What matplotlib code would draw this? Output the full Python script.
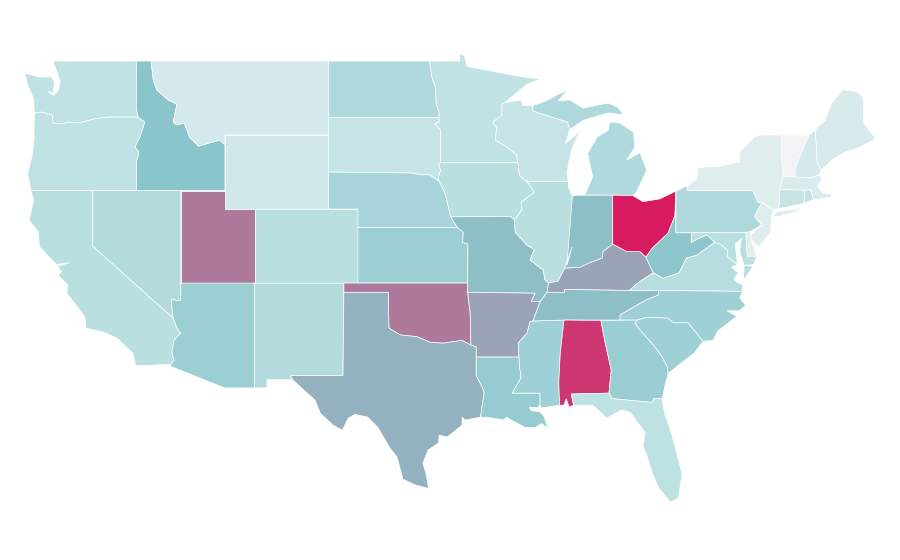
import matplotlib
import matplotlib.pyplot as plt
from matplotlib.colors import LinearSegmentedColormap
matplotlib.use('agg')

# shared borders, lon/lat
COLUMBIA = [(-123.95, 46.2), (-123.44, 46.24), (-122.76, 46.08), (-122.7, 45.65), (-122.02, 45.6),
            (-121.68, 45.7), (-120.87, 45.65), (-119.99, 45.86), (-118.97, 45.97), (-116.92, 45.97)]
SNAKE = [(-116.92, 45.97), (-116.47, 45.7), (-116.8, 44.9), (-117.14, 44.35), (-116.87, 44.1),
         (-116.94, 43.8), (-117.03, 43.6), (-117.03, 42)]
ID_MT = [(-116.05, 49), (-115.9, 47.97), (-115.65, 47.43), (-114.9, 46.9), (-114.3, 46.67),
         (-114.55, 45.7), (-114.3, 45.55), (-113.8, 45.65), (-113.45, 44.9), (-112.85, 44.4),
         (-111.4, 44.73), (-111.05, 44.47)]
NV_CA = [(-120, 42), (-120, 39), (-114.55, 35.1)]
COLORADO_NV = [(-114.04, 36.2), (-114.05, 36.08), (-114.3, 36.05), (-114.65, 36.13), (-114.65, 35.7), (-114.55, 35.1)]
COLORADO_CA = [(-114.55, 35.1), (-114.3, 34.57), (-114.05, 34.3), (-114.5, 33.9), (-114.65, 33.27),
               (-114.5, 32.84), (-114.72, 32.6)]
RED_ND = [(-97.2, 49), (-97.03, 48.1), (-96.8, 47.6), (-96.75, 46.7), (-96.55, 46.2), (-96.55, 45.95)]
SD_MN = [(-96.55, 45.95), (-96.55, 45.7), (-96.85, 45.6), (-96.45, 45.3), (-96.45, 43.5)]
SD_IA = [(-96.45, 43.5), (-96.6, 43.45), (-96.45, 43.1), (-96.6, 42.7), (-96.55, 42.5)]
SD_NE = [(-98.4, 42.95), (-97.85, 42.85), (-97.2, 42.85), (-96.55, 42.5)]
NE_IA = [(-96.55, 42.5), (-96.15, 41.86), (-95.85, 40.9), (-95.77, 40.58)]
NE_MO = [(-95.77, 40.58), (-95.31, 40)]
KS_MO = [(-95.31, 40), (-94.92, 39.75), (-94.95, 39.2), (-94.6, 39.1)]
MISS_MN = [(-92.3, 46.65), (-92.3, 46.1), (-92.9, 45.7), (-92.65, 45.38), (-92.75, 44.73), (-91.95, 44.35),
           (-91.3, 43.92), (-91.22, 43.5)]
MISS_WI = [(-91.22, 43.5), (-91.1, 42.8), (-90.64, 42.5)]
MISS_IA = [(-90.64, 42.5), (-90.53, 42.4), (-90.1, 41.9), (-91, 41.37), (-90.95, 40.95), (-91.45, 40.4)]
MISS_MO = [(-91.45, 40.4), (-91.4, 39.75), (-90.6, 39.05), (-90.1, 38.8), (-90.4, 38.25), (-89.5, 37.7),
           (-89.4, 37.2), (-89.15, 37)]
MISS_KY = [(-89.15, 37), (-89.2, 36.7), (-89.25, 36.5)]
MISS_TN = [(-89.25, 36.5), (-89.7, 36)]
MISS_AR_TN = [(-89.7, 36), (-89.85, 35.7), (-90.2, 34.95)]
MISS_AR = [(-90.2, 34.95), (-90.4, 34.9), (-90.6, 34.3), (-91.2, 33.75), (-91.15, 33)]
MISS_LA = [(-91.15, 33), (-91.1, 32.45), (-91.0, 31.9), (-91.6, 31.05)]
OHIO_IL = [(-89.15, 37), (-88.5, 37.1), (-88.05, 37.8)]
OHIO_IN = [(-88.05, 37.8), (-87, 37.85), (-86.35, 38.1), (-85.5, 38.35), (-85.45, 38.7), (-84.8, 39.1)]
OHIO_OH = [(-84.8, 39.1), (-84.65, 39.05), (-83.85, 38.7), (-82.95, 38.7), (-82.55, 38.4)]
OHIO_WV = [(-82.55, 38.4), (-82.1, 38.9), (-81.7, 39.2), (-81.05, 39.7), (-80.6, 40.6)]
WABASH = [(-88.05, 37.8), (-87.9, 37.95), (-87.55, 38.95), (-87.53, 41.7)]
KY_WV = [(-82.55, 38.4), (-82.05, 37.55)]
KY_VA = [(-82.05, 37.55), (-83.1, 37), (-83.68, 36.6)]
WV_VA = [(-82.05, 37.55), (-81.4, 37.25), (-80.3, 37.55), (-79.8, 38.35), (-79.1, 38.5), (-77.9, 39.2)]
WV_MD = [(-77.9, 39.2), (-78.4, 39.6), (-78.9, 39.45), (-79.48, 39.2), (-79.48, 39.72)]
RED_OK = [(-99.95, 34.57), (-99.2, 34.2), (-98.05, 34.1), (-97.17, 33.8), (-96.3, 33.75), (-95, 33.9),
          (-94.4, 33.65)]
SABINE = [(-94.04, 32), (-93.65, 31.4), (-93.5, 31.1), (-93.75, 29.75)]
TN_NC = [(-81.68, 36.6), (-81.7, 36.35), (-82.5, 36.1), (-83.4, 35.7), (-84.3, 35.27), (-84.3, 35)]
SAVANNAH = [(-83.1, 35), (-83.3, 34.83), (-82.95, 34.45), (-82.05, 33.65), (-81.45, 33), (-81.1, 32.45),
            (-81.05, 32.1)]
GA_AL = [(-85.6, 34.98), (-85.3, 33.75), (-84.9, 32.3), (-85.05, 31.05)]
GA_FL = [(-85.05, 31.05), (-84.85, 30.75), (-82.15, 30.55), (-82, 30.75), (-81.45, 30.75)]
NC_SC = [(-83.1, 35), (-82.5, 35.15), (-81.05, 35.1), (-80.7, 34.85), (-79.7, 34.85), (-78.68, 33.85)]
MI_WI = [(-90.2, 46.6), (-90.2, 46.3), (-87.85, 45.7), (-87.7, 45.3)]
NY_VT = [(-73.4, 45), (-73.35, 43.65), (-73.25, 42.75)]
NY_PA = [(-79.76, 42), (-75.3, 42), (-74.95, 41.35), (-74.7, 41.35)]
PA_NJ = [(-74.7, 41.35), (-75.2, 40.6), (-74.7, 40.15), (-75.45, 39.8)]
VT_NH = [(-71.5, 45), (-72.05, 44), (-72.45, 43.2), (-72.45, 42.73)]

STATE_NAMES = ["WA", "OR", "CA", "NV", "ID", "MT", "WY", "UT", "AZ", "NM", "CO", "ND", "SD", "NE", "KS", "OK", "TX",
               "MN", "IA", "MO", "AR", "LA", "WI", "IL", "MS", "MI", "IN", "KY", "TN", "AL", "OH", "WV", "VA", "NC",
               "SC", "GA", "FL", "PA", "NY", "VT", "NH", "ME", "MA", "CT", "RI", "NJ", "DE", "MD"]
STATE_VALUES = [25, 25, 28, 31, 50, 16, 17, 72, 42, 31, 28, 33, 22, 37, 42, 72, 56,
                25, 28, 52, 60, 45, 22, 28, 41, 33, 52, 60, 52, 92, 100, 49, 29, 41,
                41, 43, 26, 33, 10, 1, 16, 14, 13, 22, 24, 10, 8, 28]
RAMP_STOPS = [0, 0.25, 0.5, 1]
RAMP_COLORS = ["#f4f4f6", "#c0e2e4", "#8bc6cc", "#d81b60"]

OUTLINES = {
    "WA": [[(-117.04, 49), (-122.7, 49), (-122.5, 48.6), (-122.2, 47.9), (-122.35, 47.4), (-122.65, 47.15),
            (-123.05, 47.35), (-122.65, 47.3), (-122.6, 47.9), (-122.8, 48.15), (-123.6, 48.13), (-124.6, 48.35),
            (-124.4, 47.7), (-124, 46.95), (-123.95, 46.2), *COLUMBIA[1:]]],
    "OR": [[*COLUMBIA, *SNAKE[1:], (-120, 42), (-124.2, 42), (-124.4, 42.95), (-124.1, 43.9), (-123.98, 44.7)]],
    "CA": [[(-124.2, 42), *NV_CA, *COLORADO_CA[1:], (-117.1, 32.53), (-117.28, 33.2), (-118.36, 34.03),
            (-119.3, 34.35), (-120.46, 34.57), (-120.53, 35.16), (-121.75, 36.46), (-121.7, 36.9), (-122.35, 37.43),
            (-122.1, 37.6), (-122.4, 37.9), (-121.6, 38.1), (-122.45, 38), (-123.6, 38.95), (-123.7, 39.76),
            (-124.3, 40.4), (-124, 41.5)]],
    "NV": [[*NV_CA, *COLORADO_NV[::-1], (-114.04, 42)]],
    "ID": [[(-117.03, 49), (-116.05, 49), *ID_MT[1:], (-111.05, 42), (-117.03, 42), *SNAKE[::-1], (-117.04, 46.4)]],
    "MT": [[*ID_MT, (-111.05, 45), (-104.05, 45), (-104.05, 49)]],
    "WY": [[(-111.05, 45), (-104.05, 45), (-104.05, 41), (-111.05, 41)]],
    "UT": [[(-114.04, 42), (-111.05, 42), (-111.05, 41), (-109.05, 41), (-109.05, 37), (-114.04, 37)]],
    "AZ": [[(-114.04, 37), (-109.05, 37), (-109.05, 31.33), (-111.07, 31.33), (-114.72, 32.5), *COLORADO_CA[::-1],
            *COLORADO_NV[::-1][1:]]],
    "NM": [[(-109.05, 37), (-103, 37), (-103.06, 32), (-106.62, 32), (-106.53, 31.78), (-108.2, 31.78),
            (-108.2, 31.33), (-109.05, 31.33)]],
    "CO": [[(-109.05, 41), (-102.05, 41), (-102.05, 37), (-109.05, 37)]],
    "ND": [[(-104.05, 49), *RED_ND, (-104.05, 45.95)]],
    "SD": [[(-104.05, 45.95), *SD_MN, *SD_IA[1:], *SD_NE[::-1][1:], (-104.05, 43)]],
    "NE": [[(-104.05, 43), *SD_NE, *NE_IA[1:], *NE_MO[1:], (-102.05, 40), (-102.05, 41), (-104.05, 41)]],
    "KS": [[(-102.05, 40), *KS_MO, (-94.62, 37), (-102.05, 37)]],
    "OK": [[(-103, 37), (-94.62, 37), (-94.62, 36.5), (-94.45, 35.4), *RED_OK[::-1], (-100, 36.5), (-103, 36.5)]],
    "TX": [[(-103, 36.5), (-100, 36.5), *RED_OK, (-94.04, 33.55), (-94.04, 33), *SABINE, (-94.8, 29.6),
            (-95, 29.76), (-95, 29.32), (-96, 28.68), (-96.55, 28.78), (-96.6, 28.35), (-97.3, 27.97),
            (-97.65, 27.27), (-97.45, 26.73), (-97.3, 26.08), (-97.3, 25.9), (-98.2, 26.1), (-99, 26.4),
            (-99.4, 27.6), (-99.9, 28.1), (-100.7, 29.2), (-101.4, 29.76), (-102.25, 29.9), (-102.7, 29.7),
            (-103.1, 29.05), (-103.7, 29.3), (-104.6, 29.97), (-104.95, 30.67), (-106.45, 31.76), (-106.62, 32),
            (-103.06, 32)]],
    "MN": [[(-97.2, 49), (-95.15, 49), (-95.15, 49.38), (-94.85, 49.3), (-94.65, 48.7), (-93.6, 48.55), (-92.3, 48.35),
            (-90.95, 48.15), (-89.7, 48.02), (-90.6, 47.75), (-92.1, 46.75), *MISS_MN, (-96.45, 43.5),
            *SD_MN[::-1][1:], *RED_ND[::-1][1:]]],
    "IA": [[(-96.45, 43.5), (-91.22, 43.5), *MISS_WI[1:], *MISS_IA[1:], (-91.7, 40.6), (-95.77, 40.58),
            *NE_IA[::-1][1:], *SD_IA[::-1][1:]]],
    "MO": [[(-95.77, 40.58), (-91.7, 40.6), *MISS_MO, *MISS_KY[1:], *MISS_TN[1:], (-90.33, 36), (-90.05, 36.45),
            (-94.62, 36.5), (-94.62, 37), *KS_MO[::-1]]],
    "AR": [[(-94.62, 36.5), (-90.05, 36.45), (-90.33, 36), *MISS_AR_TN, *MISS_AR[1:], (-94.04, 33), (-94.04, 33.55),
            (-94.4, 33.65), (-94.45, 35.4)]],
    "LA": [[(-94.04, 33), *MISS_LA, (-89.72, 31.05), (-89.72, 30.4), (-89.9, 30.25), (-90.45, 30.3), (-90.3, 30.1),
            (-89.75, 30.05), (-89.45, 29.8), (-89.2, 29.15), (-89.6, 29.4), (-90.05, 29.2), (-90.75, 29.2), (-92, 29.75),
            (-92.2, 29.6), (-93.3, 29.75), *SABINE[::-1]]],
    "WI": [[(-92.1, 46.75), (-91, 46.9), (-90.9, 46.6), *MI_WI, (-88, 44.55), (-87.45, 44.9), (-87, 45.25),
            (-87.55, 44.3), (-87.7, 43.8), (-87.9, 42.95), (-87.8, 42.5), *MISS_WI[::-1], *MISS_MN[::-1]]],
    "IL": [[(-90.64, 42.5), (-87.8, 42.5), (-87.8, 42.2), (-87.53, 41.7), *WABASH[::-1], *OHIO_IL[::-1],
            *MISS_MO[::-1], *MISS_IA[::-1]]],
    "MS": [[(-90.2, 34.95), (-88.1, 35), (-88.35, 33.2), (-88.45, 31.65), (-88.4, 30.4), (-89.6, 30.25),
            (-89.72, 30.4), (-89.72, 31.05), *MISS_LA[::-1], *MISS_AR[::-1]]],
    "MI": [[(-86.7, 41.76), (-84.8, 41.75), (-83.45, 41.73), (-83.2, 41.9), (-82.5, 43.1), (-82.95, 44.05),
            (-83.85, 43.65), (-83.3, 44.35), (-83.4, 45.15), (-84.3, 45.65), (-85, 45.7), (-85.1, 45.25),
            (-85.85, 44.9), (-86.5, 44), (-86.15, 42.75)],
           [*MI_WI, (-86.8, 45.8), (-85.1, 46.2), (-84.1, 46.1), (-84.45, 46.5), (-85.1, 46.73), (-86.8, 46.46),
            (-87.7, 46.9), (-88.5, 46.85), (-87.85, 47.45), (-88.5, 47.2), (-89.3, 46.85)]],
    "IN": [[(-87.53, 41.7), (-87.2, 41.75), (-84.8, 41.75), *OHIO_IN[::-1], *WABASH[1:-1][::-1]]],
    "KY": [[*MISS_KY[::-1], *OHIO_IL[1:], *OHIO_IN[1:], *OHIO_OH[1:], *KY_WV[1:], *KY_VA[1:], (-88.05, 36.65),
            (-88.05, 36.5)]],
    "TN": [[(-89.25, 36.5), (-88.05, 36.5), (-88.05, 36.65), (-83.68, 36.6), *TN_NC, (-88.1, 35), *MISS_AR_TN[::-1]]],
    "AL": [[(-88.1, 35), (-85.6, 34.98), *GA_AL[1:], (-87.6, 31), (-87.45, 30.4), (-87.75, 30.3), (-87.95, 30.75),
            (-88.1, 30.4), (-88.4, 30.4), (-88.45, 31.65), (-88.35, 33.2)]],
    "OH": [[(-84.8, 41.75), (-83.45, 41.73), (-82.75, 41.4), (-81.6, 41.55), (-80.52, 41.97), *OHIO_WV[::-1],
            *OHIO_OH[::-1]]],
    "WV": [[(-80.6, 40.6), (-80.52, 40.6), (-80.52, 39.72), (-79.48, 39.72), *WV_MD[::-1][1:], *WV_VA[::-1],
            *KY_WV[::-1], *OHIO_WV[1:]]],
    "VA": [[*KY_VA[::-1], *WV_VA, (-77.5, 39.1), (-77.05, 38.8), (-77, 38.4), (-76.35, 38), (-76.75, 37.85),
            (-76.3, 37.55), (-76.6, 37.2), (-76.3, 37), (-76, 36.9), (-76, 36.55), (-81.68, 36.6)],
           [(-75.9, 37.95), (-75.3, 37.9), (-75.95, 37.15)]],
    "NC": [[(-81.68, 36.6), (-76, 36.55), (-76.2, 36.2), (-75.8, 35.8), (-76.2, 35.5), (-77.05, 35.5), (-76.4, 35.2),
            (-77.05, 34.8), (-77.7, 34.4), (-78, 33.9), (-78.68, 33.85), *NC_SC[::-1][1:], (-84.3, 35),
            *TN_NC[::-1][1:]]],
    "SC": [[*NC_SC, (-79.3, 33.2), (-80.05, 32.75), (-81.05, 32.1), *SAVANNAH[::-1][1:]]],
    "GA": [[(-85.6, 34.98), (-83.1, 35), *SAVANNAH[1:], (-81.25, 31.5), (-81.45, 30.75), *GA_FL[::-1], *GA_AL[::-1][1:]]],
    "FL": [[(-87.6, 31), *GA_FL, (-81.3, 30), (-80.8, 28.8), (-80.1, 26.7), (-80.35, 25.4), (-80.9, 25.15),
            (-81.7, 25.95), (-82.1, 26.7), (-82.45, 27.6), (-82.75, 28.2), (-82.6, 28.9), (-83.6, 30), (-84.2, 30.15),
            (-85.2, 29.7), (-86.15, 30.4), (-87.45, 30.4)]],
    "PA": [[(-80.52, 41.97), (-79.76, 42.27), *NY_PA, *PA_NJ[1:], (-75.79, 39.72), (-80.52, 39.72)]],
    "NY": [[(-79.76, 42.27), (-79.15, 42.6), (-79, 43.25), (-77.65, 43.3), (-76.2, 43.55), (-76.2, 44.1),
            (-75.2, 44.9), (-74.7, 45), *NY_VT, (-73.5, 42.05), (-73.5, 41.3), (-73.65, 41), (-73.9, 40.95),
            (-74.7, 41.35), *NY_PA[::-1][1:]],
           [(-74, 40.6), (-73.7, 40.88), (-72.6, 40.98), (-71.9, 41.07), (-72.6, 40.8), (-73.5, 40.6)]],
    "VT": [[*NY_VT, *VT_NH[::-1]]],
    "NH": [[*VT_NH, (-71.3, 42.7), (-70.8, 42.87), (-70.7, 43.1), (-70.95, 43.5), (-71.08, 45.3)]],
    "ME": [[(-71.08, 45.3), (-70.4, 45.8), (-70, 46.7), (-69.2, 47.45), (-68.3, 47.35), (-67.85, 47.05), (-67.8, 45.65),
            (-67, 44.8), (-68.2, 44.3), (-69, 44.1), (-69.8, 43.75), (-70.7, 43.1), (-70.95, 43.5)]],
    "MA": [[(-73.25, 42.75), (-72.45, 42.73), (-71.3, 42.7), (-70.8, 42.87), (-70.65, 42.6), (-70.95, 42.25),
            (-70.55, 41.85), (-70.05, 41.8), (-70, 41.65), (-70.7, 41.55), (-71.2, 41.5), (-71.4, 42.02),
            (-71.8, 42.02), (-73.5, 42.05)]],
    "CT": [[(-73.5, 42.05), (-71.8, 42.02), (-71.85, 41.32), (-73.65, 41), (-73.5, 41.3)]],
    "RI": [[(-71.8, 42.02), (-71.4, 42.02), (-71.2, 41.5), (-71.85, 41.32)]],
    "NJ": [[*PA_NJ[:-1], (-75.5, 39.55), (-75.5, 39.4), (-74.9, 38.95), (-74.1, 39.75), (-74.05, 40.65), (-73.9, 40.95)]],
    "DE": [[(-75.79, 39.72), (-75.45, 39.8), (-75.4, 39.3), (-75.05, 38.45), (-75.7, 38.45)]],
    "MD": [[(-79.48, 39.72), (-75.79, 39.72), (-75.7, 38.45), (-75.05, 38.45), (-75.25, 38), (-75.9, 37.95),
            (-76.2, 38.7), (-76.1, 39.4), (-76.5, 39.1), (-76.4, 38.3), (-76.35, 38), (-77, 38.4), (-77.05, 38.8),
            (-77.5, 39.1), (-77.9, 39.2), *WV_MD[1:]]],
}


def main():
    cmap = LinearSegmentedColormap.from_list("ramp", list(zip(RAMP_STOPS, RAMP_COLORS)))

    fig = plt.figure(figsize=(9, 5.6), dpi=100)
    ax = fig.add_axes([0, 0, 1, 1])
    for name, value in zip(STATE_NAMES, STATE_VALUES):
        for ring in OUTLINES[name]:
            lons, lats = zip(*ring)
            ax.fill(lons, lats, facecolor=cmap(value / 100), edgecolor="white", linewidth=0.5)

    ax.set_xlim(-126.28, -65.35)
    ax.set_ylim(22.03, 52.3)
    ax.axis("off")
    plt.savefig("out.png")


if __name__ == "__main__":
    main()
